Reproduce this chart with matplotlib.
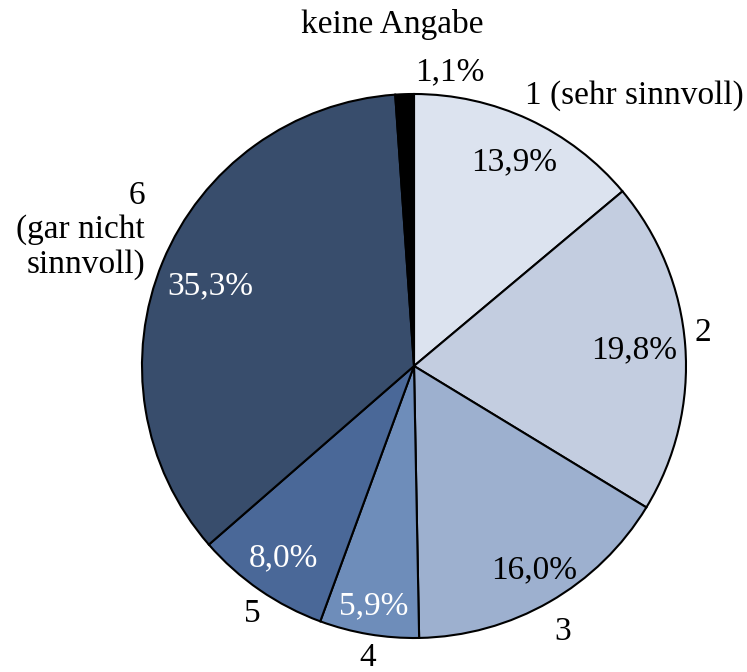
import matplotlib.pyplot as plt

kategorien = ['1 (sehr sinnvoll)', '2', '3', '4', '5', '6\n(gar nicht\nsinnvoll)', 'keine Angabe']
anteile = [13.9, 19.8, 16.0, 5.9, 8.0, 35.3, 1.1]
farben = ['#dce3ef', '#c3cde0', '#9db0cf', '#6e8dba', '#4a6898', '#384d6c', '#000000']
textfarben = ['black', 'black', 'black', 'white', 'white', 'white', 'black']

plt.rcParams['font.family'] = 'serif'
plt.rcParams['font.serif'] = ['Liberation Serif', 'DejaVu Serif']

fig = plt.figure(figsize=(7.47, 6.72), dpi=100)
ax = fig.add_axes([0, 0, 1, 1])

mitte = (414, 672 - 366)
ax.pie(anteile, colors=farben, startangle=90, counterclock=False,
       radius=272, center=mitte, frame=True,
       wedgeprops=dict(edgecolor='black', linewidth=1.5))
ax.set_xlim(0, 747)
ax.set_ylim(0, 672)
ax.set_aspect('equal')
ax.axis('off')

# Positionen der Prozentwerte (Pixel, von oben gemessen)
pct_pos = [(514, 162), (634, 350), (534, 570), (374, 606), (283, 558), (210, 286), (450, 72)]
for (x, y), w, c in zip(pct_pos, anteile, textfarben):
    ax.text(x, 672 - y, f'{w:.1f}%'.replace('.', ','), color=c, fontsize=24,
            ha='center', va='center')

# Kategorienbeschriftungen
lab_pos = [(634, 96, 'center'), (703, 333, 'center'), (563, 632, 'center'),
           (368, 658, 'center'), (252, 614, 'center'), (145, 230, 'right'),
           (392, 24, 'center')]
for (x, y, h), k in zip(lab_pos, kategorien):
    ax.text(x, 672 - y, k, fontsize=24, ha=h, va='center', multialignment='right',
            linespacing=1.15)

fig.savefig('out.png', dpi=100)
